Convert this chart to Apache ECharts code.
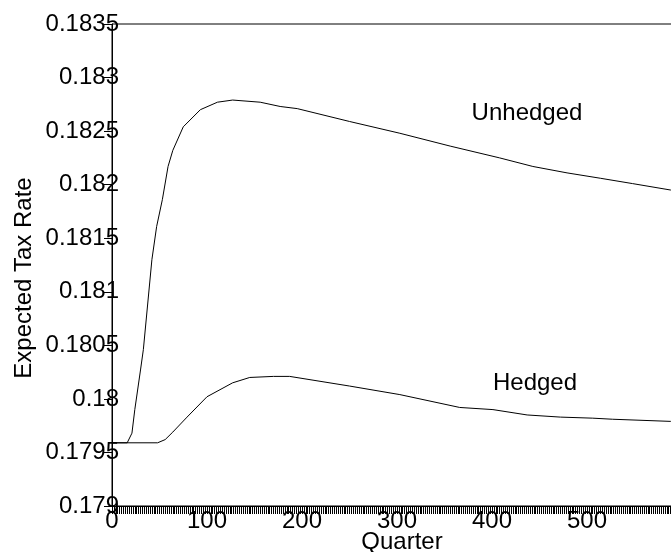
<!DOCTYPE html>
<html>
<head>
<meta charset="utf-8">
<script src="https://cdn.jsdelivr.net/npm/echarts@6/dist/echarts.min.js"></script>
<style>
html,body{margin:0;padding:0;background:#fff;}
#chart{width:671px;height:552px;}
</style>
</head>
<body>
<div id="chart"></div>
<script>
// Quarter / expected tax rate readings
var unhedgedQuarter = [0, 16, 21, 24, 30, 33, 42, 47, 53, 59, 64, 75, 93, 111, 127, 156, 177, 195, 250, 303, 356, 408, 443, 479, 514, 548, 588, 600];
var unhedgedRate = [0.17959, 0.17959, 0.17968, 0.17990, 0.18027, 0.18046, 0.18130, 0.18161, 0.18186, 0.18217, 0.18232, 0.18254, 0.18270, 0.18277, 0.18279, 0.18277, 0.18273, 0.18271, 0.18259, 0.18248, 0.18236, 0.18225, 0.18217, 0.18211, 0.18206, 0.18201, 0.18195, 0.18193];
var hedgedQuarter = [0, 48, 56, 64, 79, 100, 127, 145, 170, 187, 250, 303, 366, 401, 437, 472, 506, 527, 588, 600];
var hedgedRate = [0.17959, 0.17959, 0.17962, 0.17969, 0.17983, 0.18002, 0.18015, 0.18020, 0.18021, 0.18021, 0.18012, 0.18004, 0.17992, 0.17990, 0.17985, 0.17983, 0.17982, 0.17981, 0.17979, 0.17979];
var seriesNames = ['Unhedged', 'Hedged'];
var xTitle = 'Quarter';
var yTitle = 'Expected Tax Rate';

function zip(a, b) { return a.map(function (q, i) { return [q, b[i]]; }); }

var FONT = 'Liberation Sans, Arial, sans-serif';
var chart = echarts.init(document.getElementById('chart'), null, {renderer: 'canvas'});
chart.setOption({
  animation: false,
  backgroundColor: '#fff',
  grid: {left: 112, top: 24, width: 570, height: 482, show: true, borderColor: '#000', borderWidth: 1,
    backgroundColor: 'transparent', containLabel: false, outerBoundsMode: 'none'},
  xAxis: {
    type: 'value', min: 0, max: 600, interval: 100,
    axisLine: {show: true, onZero: false, lineStyle: {color: '#000', width: 1}},
    axisTick: {show: true, inside: false, length: 8, lineStyle: {color: '#000', width: 1}},
    minorTick: {show: true, splitNumber: 50, length: 8, lineStyle: {color: '#000', width: 1}},
    axisLabel: {fontSize: 24, fontFamily: FONT, color: '#000', margin: 3, showMaxLabel: false},
    splitLine: {show: false}
  },
  yAxis: {
    type: 'value', min: 0.179, max: 0.1835, interval: 0.0005,
    axisLine: {show: true, onZero: false, lineStyle: {color: '#000', width: 1}},
    axisTick: {show: true, inside: false, length: 8, lineStyle: {color: '#000', width: 1}},
    axisLabel: {fontSize: 24, fontFamily: FONT, color: '#000', margin: -7,
      formatter: function (v) { return String(+v.toFixed(4)); }},
    splitLine: {show: false}
  },
  graphic: [
    {type: 'text', x: 24, y: 278, rotation: Math.PI / 2,
      style: {text: yTitle, font: '24px ' + FONT, fill: '#000', align: 'center', verticalAlign: 'middle'}},
    {type: 'text', x: 402, y: 542,
      style: {text: xTitle, font: '24px ' + FONT, fill: '#000', align: 'center', verticalAlign: 'middle'}},
    {type: 'text', x: 527, y: 113,
      style: {text: seriesNames[0], font: '24px ' + FONT, fill: '#000', align: 'center', verticalAlign: 'middle'}},
    {type: 'text', x: 535, y: 383,
      style: {text: seriesNames[1], font: '24px ' + FONT, fill: '#000', align: 'center', verticalAlign: 'middle'}}
  ],
  series: [
    {name: seriesNames[0], type: 'line', data: zip(unhedgedQuarter, unhedgedRate), showSymbol: false, symbol: 'none',
      lineStyle: {color: '#000', width: 1}, clip: true},
    {name: seriesNames[1], type: 'line', data: zip(hedgedQuarter, hedgedRate), showSymbol: false, symbol: 'none',
      lineStyle: {color: '#000', width: 1}, clip: true}
  ]
});
</script>
</body>
</html>
